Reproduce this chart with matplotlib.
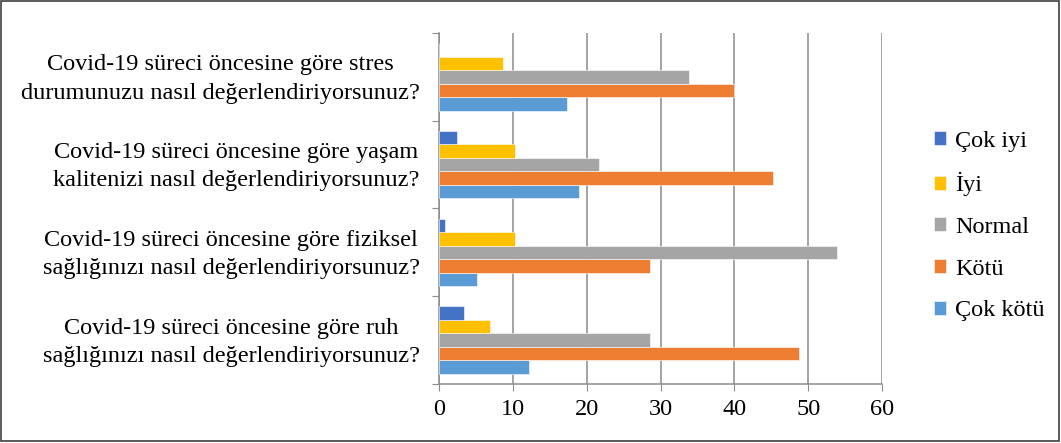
import matplotlib
matplotlib.use("Agg")
import matplotlib.pyplot as plt
import numpy as np
from matplotlib.patches import Rectangle

plt.rcParams['font.family'] = ['Liberation Serif', 'DejaVu Serif']

# categories, bottom to top
questions = [
    "Covid-19 süreci öncesine göre ruh\nsağlığınızı nasıl değerlendiriyorsunuz?",
    "Covid-19 süreci öncesine göre fiziksel\nsağlığınızı nasıl değerlendiriyorsunuz?",
    "Covid-19 süreci öncesine göre yaşam\nkalitenizi nasıl değerlendiriyorsunuz?",
    "Covid-19 süreci öncesine göre stres\ndurumunuzu nasıl değerlendiriyorsunuz?",
]

# series, drawn bottom to top inside each group
cok_kotu = [12.2, 5.1, 19.0, 17.3]
kotu = [48.7, 28.6, 45.2, 39.9]
normal = [28.6, 53.9, 21.6, 33.8]
iyi = [6.9, 10.3, 10.3, 8.6]
cok_iyi = [3.4, 0.8, 2.5, 0.0]

series_names = ["Çok kötü", "Kötü", "Normal", "İyi", "Çok iyi"]
series_vals = [cok_kotu, kotu, normal, iyi, cok_iyi]
colors = ["#5B9BD5", "#ED7D31", "#A5A5A5", "#FFC000", "#4472C4"]

fig = plt.figure(figsize=(10.61, 4.43), dpi=100)
ax = fig.add_axes([0.4138, 0.1332, 0.4175, 0.7923])

y = np.arange(len(questions))
h = 0.154
bars = []
for j, (name, vals, c) in enumerate(zip(series_names, series_vals, colors)):
    b = ax.barh(y + (j - 2) * h, vals, height=h, color=c, label=name,
                edgecolor='white', linewidth=0.4, zorder=3)
    bars.append(b)

ax.set_xlim(0, 60)
ax.set_ylim(-0.5, len(questions) - 0.5)
ax.set_xticks(np.arange(0, 61, 10))
ax.xaxis.grid(True, color='#8C8C8C', linewidth=1.1, zorder=0)

# category boundaries as major ticks, labels near centers as invisible minor ticks
ax.set_yticks(np.arange(-0.5, len(questions), 1.0))
ax.set_yticklabels([])
ax.set_yticks(y + 0.045, minor=True)
ax.set_yticklabels(questions, minor=True, fontsize=17.5, multialignment='center',
                   linespacing=1.45)
ax.tick_params(axis='y', which='minor', length=0, pad=14)
ax.tick_params(axis='y', which='major', length=5, color='#8C8C8C')
ax.tick_params(axis='x', length=5, color='#8C8C8C', labelsize=17.5, pad=6)

for s in ['top', 'right']:
    ax.spines[s].set_visible(False)
for s in ['left', 'bottom']:
    ax.spines[s].set_color('#8C8C8C')
    ax.spines[s].set_linewidth(1.1)

handles = bars[::-1]
labels = series_names[::-1]
fig.legend(handles, labels, loc='center left', bbox_to_anchor=(0.860, 0.49),
           frameon=False, fontsize=17.5, handlelength=0.5, handleheight=0.5,
           handletextpad=0.35, labelspacing=0.85)

fig.patches.append(Rectangle((0.001, 0.004), 0.997, 0.994, transform=fig.transFigure,
                             fill=False, edgecolor='#404040', linewidth=1.2))

fig.savefig("out.png", dpi=100)
